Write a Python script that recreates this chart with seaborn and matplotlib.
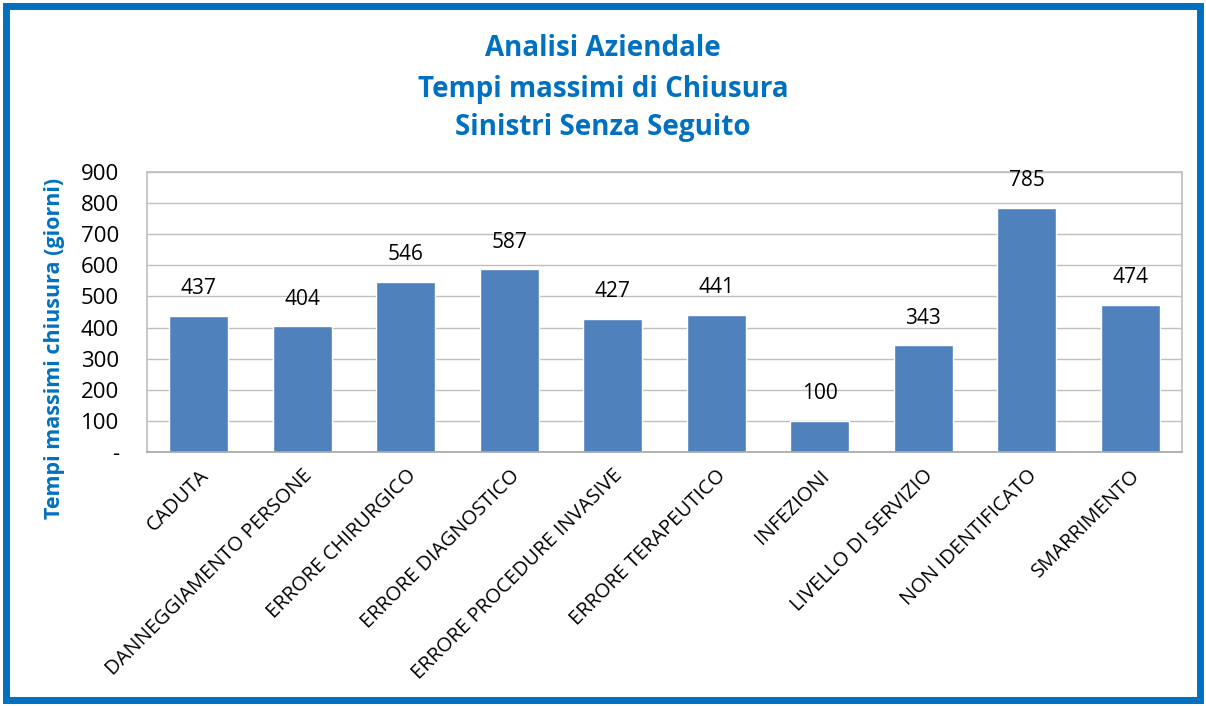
import matplotlib
matplotlib.use("Agg")
import matplotlib.pyplot as plt
import seaborn as sns
import pandas as pd
from matplotlib.patches import Rectangle

categories = [
    "CADUTA", "DANNEGGIAMENTO PERSONE", "ERRORE CHIRURGICO", "ERRORE DIAGNOSTICO",
    "ERRORE PROCEDURE INVASIVE", "ERRORE TERAPEUTICO", "INFEZIONI",
    "LIVELLO DI SERVIZIO", "NON IDENTIFICATO", "SMARRIMENTO",
]
values = [437, 404, 546, 587, 427, 441, 100, 343, 785, 474]
y_ticks = [0, 100, 200, 300, 400, 500, 600, 700, 800, 900]
y_tick_labels = ["-", "100", "200", "300", "400", "500", "600", "700", "800", "900"]
title_lines = ["Analisi Aziendale", "Tempi massimi di Chiusura", "Sinistri Senza Seguito"]
y_label = "Tempi massimi chiusura (giorni)"

sns.set_theme(style="white")
plt.rcParams["font.family"] = ["Open Sans", "DejaVu Sans"]

BLUE = "#0070C0"
BAR = "#4F81BD"

df = pd.DataFrame({"categoria": categories, "giorni": values})

fig = plt.figure(figsize=(12.06, 7.06), dpi=100)
ax = fig.add_axes([147 / 1206, 1 - 452 / 706, (1182 - 147) / 1206, (452 - 172) / 706])

sns.barplot(data=df, x="categoria", y="giorni", color=BAR, width=0.57,
            saturation=1, ax=ax)

ax.set_ylim(0, 900)
ax.set_xlim(-0.5, len(categories) - 0.5)
ax.set_yticks(y_ticks)
ax.set_yticklabels(y_tick_labels, fontsize=16, color="black")
ax.yaxis.grid(True, color="#BFBFBF", linewidth=1)
ax.set_axisbelow(True)
for side in ["top", "right", "left", "bottom"]:
    ax.spines[side].set_visible(True)
    ax.spines[side].set_color("#BFBFBF")
    ax.spines[side].set_linewidth(1.2)
ax.spines["bottom"].set_color("#A6A6A6")
ax.tick_params(axis="y", length=0, pad=20)
ax.tick_params(axis="x", length=0, pad=10)

ax.set_xticks(range(len(categories)))
ax.set_xticklabels(categories, rotation=45, ha="right", rotation_mode="anchor",
                   fontsize=14.5, color="black")
ax.set_xlabel("")
ax.set_ylabel(y_label, fontsize=15.5, fontweight="bold", color=BLUE)
ax.yaxis.set_label_coords(-0.079, 0.371)

for i, v in enumerate(values):
    ax.annotate(f"{v}", (i, v), xytext=(0, 12), textcoords="offset points",
                ha="center", va="bottom", fontsize=15, color="black")

for text, y_px in zip(title_lines, [48, 89, 128]):
    fig.text(0.5, 1 - y_px / 706, text, ha="center", va="center",
             fontsize=20, fontweight="bold", color=BLUE)

# blue frame around the whole chart
fig.patches.append(Rectangle((6 / 1206, 6 / 706), 1 - 12 / 1206, 1 - 12 / 706,
                             transform=fig.transFigure, fill=False,
                             edgecolor=BLUE, linewidth=5))

fig.savefig("out.png", dpi=100, facecolor="white")
